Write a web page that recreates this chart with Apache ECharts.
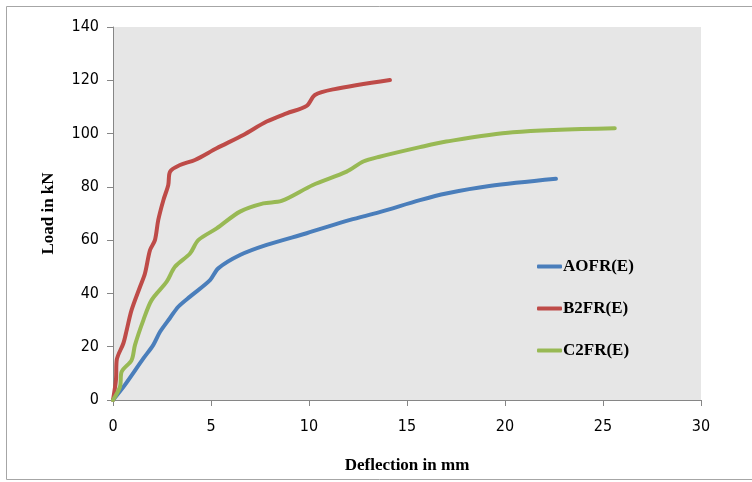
<!DOCTYPE html>
<html>
<head>
<meta charset="utf-8">
<script src="https://cdn.jsdelivr.net/npm/echarts@6/dist/echarts.min.js"></script>
<style>
  html, body { margin: 0; padding: 0; background: #fff; }
  #chart { width: 752px; height: 482px; }
</style>
</head>
<body>
<div id="chart"></div>
<script>
const aofrX = [0, 0.6, 1.55, 2.05, 2.4, 2.9, 3.33, 3.93, 4.95, 5.37, 6.48, 7.84, 9.88, 12.1, 13.6, 15.66, 17.0, 19.2, 22.6];
const aofrY = [0, 5.6, 15.6, 20.6, 25.6, 30.7, 35, 38.8, 45, 49.4, 54.4, 58.2, 62.6, 67.6, 70.5, 75, 77.5, 80.3, 83];

const b2frX = [0, 0.15, 0.19, 0.53, 0.7, 0.95, 1.38, 1.63, 1.89, 2.14, 2.31, 2.57, 2.82, 2.91, 3.42, 4.18, 5.29, 6.65, 7.84, 8.86, 9.88, 10.3, 11.24, 14.13];
const b2frY = [0, 7.5, 15, 21.3, 26.3, 33.8, 42.5, 47.5, 56.3, 60, 67.6, 75, 80.7, 85.7, 88.2, 90.1, 94.5, 99.5, 104.5, 107.6, 110.4, 114.5, 116.6, 120.1];

const c2frX = [0, 0.36, 0.44, 0.95, 1.12, 1.55, 1.97, 2.74, 3.16, 3.93, 4.35, 5.29, 6.48, 7.67, 8.6, 10.2, 11.92, 12.77, 13.6, 15.66, 17.0, 20.4, 25.6];
const c2frY = [0, 5, 10.6, 15, 20.6, 30, 37.5, 44.4, 50, 55, 60, 64.4, 70.7, 73.8, 74.7, 80.7, 85.7, 89.5, 91.3, 94.9, 97, 100.5, 102];

const seriesNames = ['AOFR(E)', 'B2FR(E)', 'C2FR(E)'];
const seriesColors = ['#4a7ebb', '#be4b48', '#98b954'];

function pairs(xs, ys) {
  return xs.map((x, i) => [x, ys[i]]);
}

const chart = echarts.init(document.getElementById('chart'));

const axisLineStyle = { color: '#868686', width: 1 };
const tickFont = {
  fontFamily: '"Liberation Sans Narrow", "Arial Narrow", "DejaVu Sans Condensed", sans-serif',
  fontSize: 16,
  color: '#000'
};
const titleFont = {
  fontFamily: '"Liberation Serif", "Times New Roman", serif',
  fontWeight: 'bold',
  fontSize: 17,
  color: '#000'
};

const option = {
  animation: false,
  backgroundColor: '#fff',
  graphic: [{
    type: 'rect',
    left: 4, top: 4,
    shape: { width: 760, height: 473 },
    style: { fill: 'none', stroke: '#a6a6a6', lineWidth: 1 },
    silent: true,
    z: 0
  }],
  grid: {
    left: 113,
    right: 51,
    top: 27,
    bottom: 82,
    show: true,
    backgroundColor: '#e6e6e6',
    borderWidth: 0
  },
  legend: {
    orient: 'vertical',
    left: 532,
    top: 253,
    itemWidth: 25,
    itemHeight: 4,
    itemGap: 25,
    icon: 'roundRect',
    textStyle: Object.assign({ padding: [0, 0, 0, -4] }, titleFont),
    data: seriesNames
  },
  xAxis: {
    type: 'value',
    min: 0,
    max: 30,
    interval: 5,
    name: 'Deflection in mm',
    nameLocation: 'middle',
    nameGap: 57,
    nameTextStyle: titleFont,
    axisLine: { show: true, lineStyle: axisLineStyle },
    axisTick: { show: true, length: 6, lineStyle: axisLineStyle },
    axisLabel: Object.assign({ margin: 19 }, tickFont),
    splitLine: { show: false }
  },
  yAxis: {
    type: 'value',
    min: 0,
    max: 140,
    interval: 20,
    name: 'Load in kN',
    nameLocation: 'middle',
    nameGap: 56,
    nameRotate: 90,
    nameTextStyle: titleFont,
    axisLine: { show: true, lineStyle: axisLineStyle },
    axisTick: { show: true, length: 6, lineStyle: axisLineStyle },
    axisLabel: Object.assign({ margin: 14 }, tickFont),
    splitLine: { show: false }
  },
  series: [
    [aofrX, aofrY],
    [b2frX, b2frY],
    [c2frX, c2frY]
  ].map(([xs, ys], i) => ({
    name: seriesNames[i],
    type: 'line',
    data: pairs(xs, ys),
    smooth: 0.3,
    showSymbol: false,
    symbol: 'none',
    color: seriesColors[i],
    lineStyle: { width: 4, color: seriesColors[i], cap: 'round', join: 'round' }
  }))
};

chart.setOption(option);
</script>
</body>
</html>
